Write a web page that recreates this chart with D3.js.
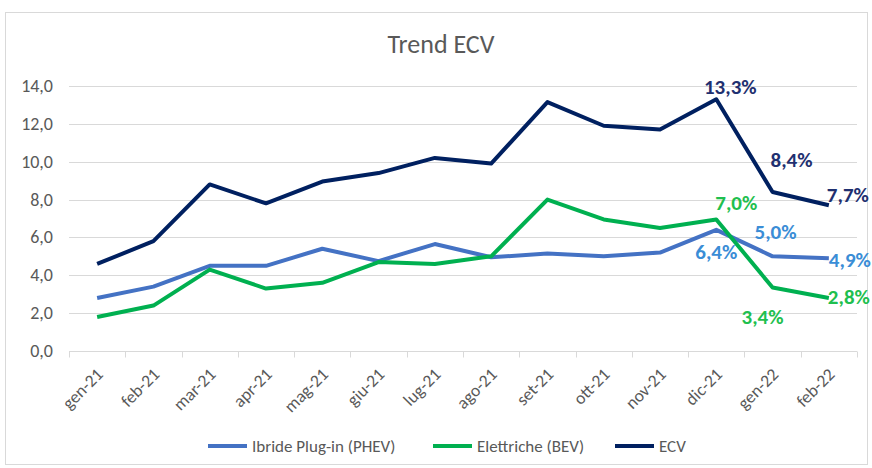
<!DOCTYPE html>
<html>
<head>
<meta charset="UTF-8" />
<title>Trend ECV</title>
<script src="https://d3js.org/d3.v7.min.js"></script>
<style>
body { margin: 0px; background: #fff; }
text { font-family: Carlito, "Liberation Sans Narrow", "Open Sans", sans-serif; }
</style>
</head>
<body>
<svg id="chart" width="872" height="468"></svg>
<script>
// data
const months = ["gen-21","feb-21","mar-21","apr-21","mag-21","giu-21","lug-21","ago-21","set-21","ott-21","nov-21","dic-21","gen-22","feb-22"];
const phev = [2.8, 3.4, 4.5, 4.5, 5.4, 4.75, 5.65, 4.95, 5.15, 5.0, 5.2, 6.4, 5.0, 4.9];
const bev  = [1.8, 2.4, 4.3, 3.3, 3.6, 4.7, 4.6, 5.0, 8.0, 6.95, 6.5, 6.95, 3.35, 2.8];
const ecv  = [4.6, 5.8, 8.8, 7.8, 8.95, 9.4, 10.2, 9.9, 13.15, 11.9, 11.7, 13.3, 8.4, 7.7];
const yTicks = [0, 2, 4, 6, 8, 10, 12, 14];

const series = [
    {name: "Ibride Plug-in (PHEV)", values: phev, color: "#4472c4", labelColor: "#3a8dd6"},
    {name: "Elettriche (BEV)", values: bev, color: "#00b050", labelColor: "#1fbf4f"},
    {name: "ECV", values: ecv, color: "#002060", labelColor: "#1f3070"}
];

// which points get a label: [series index, month index, dx, dy, anchor]
const labels = [
    [2, 11, 14, -5, "middle"],
    [2, 12, 19, -25, "middle"],
    [2, 13, -2, -3, "start"],
    [1, 11, 20, -9, "middle"],
    [0, 11, 0, 29, "middle"],
    [0, 12, 3, -17, "middle"],
    [0, 13, 0, 9, "start"],
    [1, 12, -10, 36, "middle"],
    [1, 13, -1, 6, "start"]
];

const svg = d3.select("#chart");
const width = 872, height = 468;
const margin = {left: 69, right: 15, top: 86, bottom: 117};

// outer frame
svg.append("rect")
    .attr("x", 5.5).attr("y", 12.5)
    .attr("width", 862).attr("height", 452)
    .attr("fill", "#fff").attr("stroke", "#d9d9d9");

svg.append("text")
    .attr("x", 441).attr("y", 53)
    .attr("text-anchor", "middle")
    .attr("font-size", 26)
    .attr("fill", "#595959")
    .text("Trend ECV");

let x = d3.scaleBand().domain(months).range([margin.left, width - margin.right]);
let y = d3.scaleLinear().domain([0, 14]).range([height - margin.bottom, margin.top]);
let cx = m => x(m) + x.bandwidth() / 2;

// gridlines
svg.append("g")
    .selectAll("line")
    .data(yTicks.slice(1))
    .join("line")
    .attr("x1", margin.left).attr("x2", width - margin.right)
    .attr("y1", d => Math.round(y(d)) + 0.5).attr("y2", d => Math.round(y(d)) + 0.5)
    .attr("stroke", "#d9d9d9").attr("stroke-width", 1);

// y axis labels
svg.append("g")
    .selectAll("text")
    .data(yTicks)
    .join("text")
    .attr("x", 53).attr("y", d => y(d) + 6)
    .attr("text-anchor", "end")
    .attr("font-size", 18)
    .attr("fill", "#595959")
    .text(d => d3.format(".1f")(d).replace(".", ","));

// x axis
let xAxis = svg.append("g")
    .attr("transform", `translate(0,${Math.round(y(0)) + 0.5})`);
xAxis.append("line")
    .attr("x1", margin.left).attr("x2", width - margin.right)
    .attr("stroke", "#d9d9d9");
xAxis.selectAll(".tick")
    .data(months.concat(["end"]))
    .join("line")
    .attr("x1", (d, i) => Math.round(margin.left + i * x.bandwidth()) + 0.5)
    .attr("x2", (d, i) => Math.round(margin.left + i * x.bandwidth()) + 0.5)
    .attr("y1", 0).attr("y2", 6)
    .attr("stroke", "#d9d9d9");
xAxis.selectAll("text")
    .data(months)
    .join("text")
    .attr("transform", d => `translate(${cx(d) + 7},24) rotate(-45)`)
    .attr("text-anchor", "end")
    .attr("font-size", 17.5)
    .attr("fill", "#595959")
    .text(d => d);

// lines
let line = d3.line().x((d, i) => cx(months[i])).y(d => y(d));
svg.append("g")
    .selectAll("path")
    .data(series)
    .join("path")
    .attr("d", d => line(d.values))
    .attr("fill", "none")
    .attr("stroke", d => d.color)
    .attr("stroke-width", 4)
    .attr("stroke-linejoin", "round");

// data labels
svg.append("g")
    .selectAll("text")
    .data(labels)
    .join("text")
    .attr("x", d => cx(months[d[1]]) + d[2])
    .attr("y", d => y(series[d[0]].values[d[1]]) + d[3])
    .attr("text-anchor", d => d[4])
    .attr("font-size", 21)
    .attr("font-weight", "bold")
    .attr("fill", d => series[d[0]].labelColor)
    .text(d => d3.format(".1f")(series[d[0]].values[d[1]]).replace(".", ",") + "%");

// legend
let legendX = [208, 433, 615];
let legend = svg.append("g")
    .selectAll("g")
    .data(series)
    .join("g")
    .attr("transform", (d, i) => `translate(${legendX[i]},446)`);
legend.append("line")
    .attr("x1", 0).attr("x2", 39)
    .attr("stroke", d => d.color).attr("stroke-width", 4);
legend.append("text")
    .attr("x", 44).attr("y", 6)
    .attr("font-size", 17)
    .attr("fill", "#595959")
    .text(d => d.name);
</script>
</body>
</html>
